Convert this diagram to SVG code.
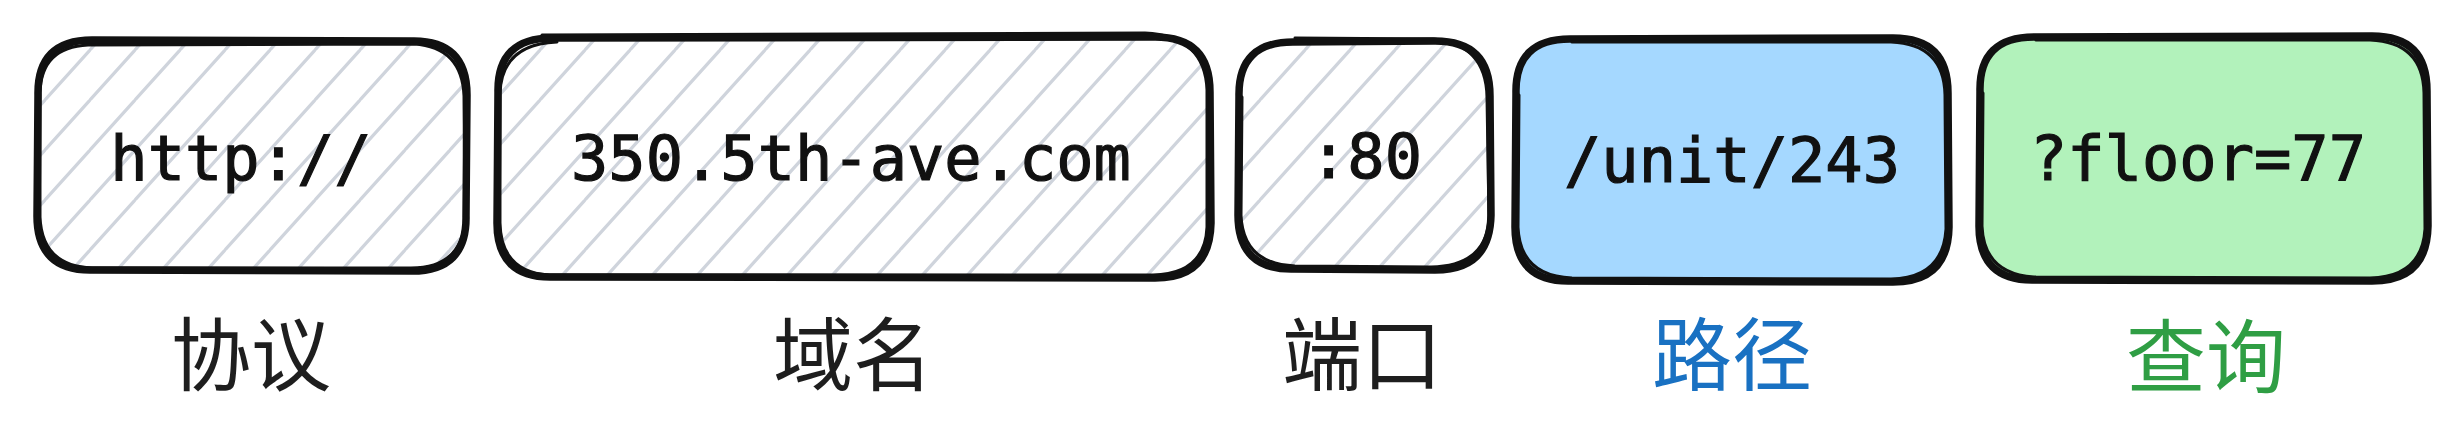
<svg xmlns="http://www.w3.org/2000/svg" width="2464" height="432" viewBox="0 0 2464 432">
  <style>
    .bg { fill: #ffffff; }
    .hatched { fill: url(#hatch); }
    .blue { fill: #a5d8ff; }
    .green { fill: #b2f2bb; }
    .edge { fill: none; stroke: #111111; stroke-width: 7.5; stroke-linejoin: round; stroke-linecap: round; }
    .edge2 { fill: none; stroke: #111111; stroke-width: 3; stroke-linejoin: round; stroke-linecap: round; }
    .code { font-family: "DejaVu Sans Mono", "Liberation Mono", monospace; font-size: 62px; fill: #111111; stroke: #111111; stroke-width: 1.2; text-anchor: middle; }
    .label { font-family: "Noto Sans CJK SC", "Noto Sans", sans-serif; font-size: 80px; text-anchor: middle; fill: #1e1e1e; }
    .label.path { fill: #1971c2; }
    .label.query { fill: #2f9e44; }
    .hl { stroke: #cfd4dc; stroke-width: 3.2; stroke-linecap: round; }
  </style>
  <defs>
    <pattern id="hatch" patternUnits="userSpaceOnUse" x="0" y="0" width="45" height="50">
      <line class="hl" x1="0" y1="50" x2="45" y2="0"/>
      <line class="hl" x1="-45" y1="50" x2="0" y2="0"/>
      <line class="hl" x1="45" y1="50" x2="90" y2="0"/>
    </pattern>
  </defs>
  <rect class="bg" x="0" y="0" width="2464" height="432"/>

  <g id="node-protocol">
    <path class="hatched" d="M92,40 L412,40 Q467,40 467,95 L467,216 Q467,271 412,271 L92,271 Q37,271 37,216 L37,95 Q37,40 92,40 Z"/>
    <path class="edge" d="M92,40 L412,41 Q467,40 467,95 L466,216 Q467,271 412,271 L92,270 Q37,271 37,216 L38,95 Q37,40 92,40 Z"/>
    <path class="edge2" d="M88,45 L414,44 Q462,47 464,96 L465,219 Q462,268 411,268 L92,268 Q42,266 40,217 L40,93 Q41,47 88,45"/>
    <text class="code" x="241" y="180">http://</text>
    <text class="label" x="251" y="384">协议</text>
  </g>

  <g id="node-host">
    <path class="hatched" d="M552,37 L1155,37 Q1210,37 1210,92 L1210,223 Q1210,278 1155,278 L552,278 Q497,278 497,223 L497,92 Q497,37 552,37 Z"/>
    <path class="edge" d="M552,38 L1155,37 Q1210,37 1210,92 L1211,223 Q1210,278 1155,278 L552,277 Q497,278 497,223 L498,92 Q497,38 552,38 Z"/>
    <path class="edge2" d="M542,35 L1145,33 Q1205,36 1207,90 L1207,227 Q1205,274 1153,275 L549,275 Q501,272 500,223 L500,93 Q502,44 557,42"/>
    <text class="code" x="851" y="180">350.5th-ave.com</text>
    <text class="label" x="853" y="384">域名</text>
  </g>

  <g id="node-port">
    <path class="hatched" d="M1293,41 L1435,41 Q1490,41 1490,96 L1490,215 Q1490,270 1435,270 L1293,270 Q1238,270 1238,215 L1238,96 Q1238,41 1293,41 Z"/>
    <path class="edge" d="M1293,42 L1435,41 Q1490,41 1490,96 L1491,215 Q1490,270 1435,270 L1293,269 Q1238,270 1238,215 L1239,96 Q1238,42 1293,42 Z"/>
    <path class="edge2" d="M1295,38 L1433,39 Q1486,44 1487,97 L1489,219 Q1486,266 1431,267 L1295,266 Q1243,264 1241,215 L1242,97"/>
    <text class="code" x="1366" y="178">:80</text>
    <text class="label" x="1362" y="384">端口</text>
  </g>

  <g id="node-path">
    <path class="blue" d="M1570,38 L1893,38 Q1948,38 1948,93 L1948,227 Q1948,282 1893,282 L1570,282 Q1515,282 1515,227 L1515,93 Q1515,38 1570,38 Z"/>
    <path class="edge" d="M1570,39 L1893,38 Q1948,38 1948,93 L1949,227 Q1948,282 1893,282 L1570,281 Q1515,282 1515,227 L1516,93 Q1515,39 1570,39 Z"/>
    <path class="edge2" d="M1572,42 L1891,42 Q1944,44 1945,95 L1946,229 Q1943,278 1891,279 L1572,278 Q1520,276 1518,227 L1519,95"/>
    <text class="code" x="1732" y="182">/unit/243</text>
    <text class="label path" x="1732" y="384">路径</text>
  </g>

  <g id="node-query">
    <path class="green" d="M2034,36 L2372,36 Q2427,36 2427,91 L2427,226 Q2427,281 2372,281 L2034,281 Q1979,281 1979,226 L1979,91 Q1979,36 2034,36 Z"/>
    <path class="edge" d="M2034,37 L2372,36 Q2427,36 2427,91 L2428,226 Q2427,281 2372,281 L2034,280 Q1979,281 1979,226 L1980,91 Q1979,37 2034,37 Z"/>
    <path class="edge2" d="M2036,40 L2370,40 Q2423,42 2424,93 L2425,229 Q2422,277 2370,278 L2036,277 Q1984,275 1982,226 L1983,93"/>
    <text class="code" x="2198" y="180">?floor=77</text>
    <text class="label query" x="2206" y="386">查询</text>
  </g>

  <g id="connectors"/>
</svg>
